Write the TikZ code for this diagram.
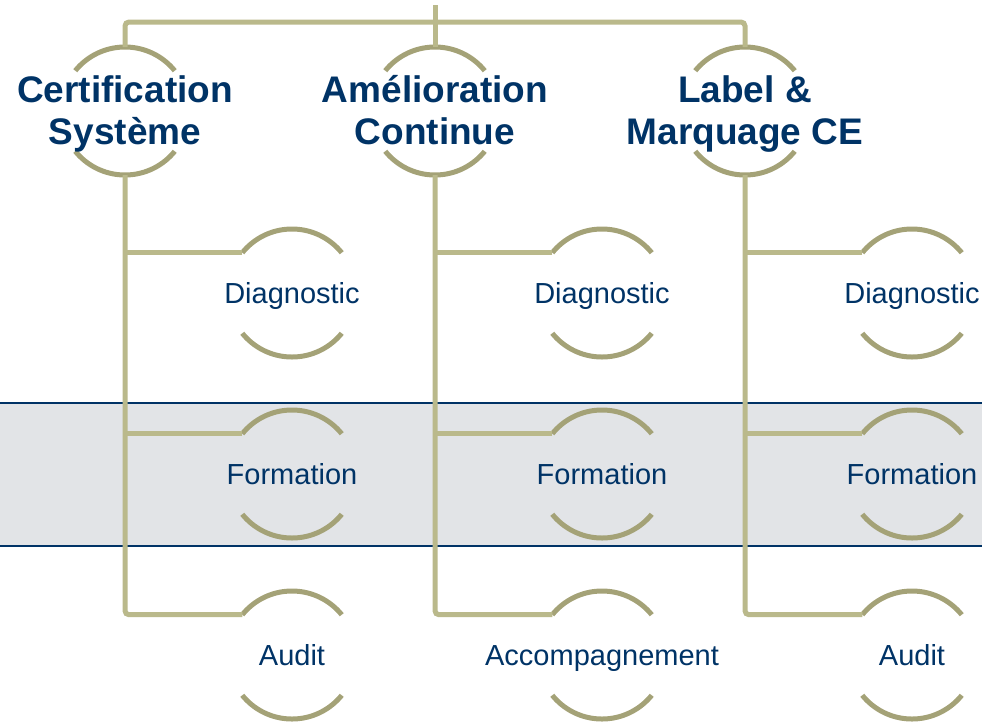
\documentclass[tikz,border=0pt]{standalone}
\usepackage{fontspec}
\setmainfont{Liberation Sans}
\usepackage{tikz}

\newcommand{\hstrut}{\vphantom{Éy}}

\begin{document}
\begin{tikzpicture}[x=1pt,y=1pt]
		
		\definecolor{navy}{RGB}{0,51,102}
		\definecolor{olive}{RGB}{186,185,139}
		\definecolor{olivedark}{RGB}{164,162,119}
		\definecolor{marble}{RGB}{226,228,231}
		
		\tikzstyle{edge} = [draw=olive, line width=5pt, rounded corners=4pt]
		\tikzstyle{band} = [draw=navy, line width=1.5pt]
		
		\tikzset{vertex/.style = {shape=circle, draw=olivedark, line width=5pt, minimum size=128pt, inner sep=0pt, outer sep=0pt, dash pattern=on 113.94pt off 87.13pt, dash phase=157.51pt}}
		\tikzset{head/.style = {text=navy, font=\fontsize{37}{38.5}\selectfont\bfseries, align=center}}
		\tikzset{sub/.style = {text=navy, font=\fontsize{29}{32}\selectfont, text height=22pt, text depth=1pt}}
		
		\useasboundingbox (0,0) rectangle (982,-721);
		
		% marble band
		\fill[marble] (0,-403) rectangle (982,-546);
		\draw[band] (0,-403) -- (982,-403);
		\draw[band] (0,-546) -- (982,-546);
		
		\node[vertex, label={[head]center:{\hstrut Certification\\\hstrut Système}}] (cert) at (125,-111) {};
		\node[vertex, label={[head]center:{\hstrut Amélioration\\\hstrut Continue}}] (ame) at (435,-111) {};
		\node[vertex, label={[head]center:{\hstrut Label \&\\\hstrut Marquage CE}}] (lab) at (745,-111) {};
		
		\node[vertex, label={[sub]center:Diagnostic}] (cdia) at (292,-293) {};
		\node[vertex, label={[sub]center:Formation}] (cfor) at (292,-474) {};
		\node[vertex, label={[sub]center:Audit}] (caud) at (292,-655) {};
		
		\node[vertex, label={[sub]center:Diagnostic}] (adia) at (602,-293) {};
		\node[vertex, label={[sub]center:Formation}] (afor) at (602,-474) {};
		\node[vertex, label={[sub]center:Accompagnement}] (aacc) at (602,-655) {};
		
		\node[vertex, label={[sub]center:Diagnostic}] (ldia) at (912,-293) {};
		\node[vertex, label={[sub]center:Formation}] (lfor) at (912,-474) {};
		\node[vertex, label={[sub]center:Audit}] (laud) at (912,-655) {};
		
		\coordinate (root) at (435,-5);
		\coordinate (top) at (435,-22);
		
		\draw[edge] (root) -- (top);
		\draw[edge] (cert.north) |- (top) -| (lab.north);
		\draw[edge] (top) -- (ame.north);
		
		\draw[edge] (cert.south) |- (caud.141);
		\draw[edge] (cdia.141) -- (cdia.141 -| cert.south);
		\draw[edge] (cfor.141) -- (cfor.141 -| cert.south);
		
		\draw[edge] (ame.south) |- (aacc.141);
		\draw[edge] (adia.141) -- (adia.141 -| ame.south);
		\draw[edge] (afor.141) -- (afor.141 -| ame.south);
		
		\draw[edge] (lab.south) |- (laud.141);
		\draw[edge] (ldia.141) -- (ldia.141 -| lab.south);
		\draw[edge] (lfor.141) -- (lfor.141 -| lab.south);
		\end{tikzpicture}
\end{document}
